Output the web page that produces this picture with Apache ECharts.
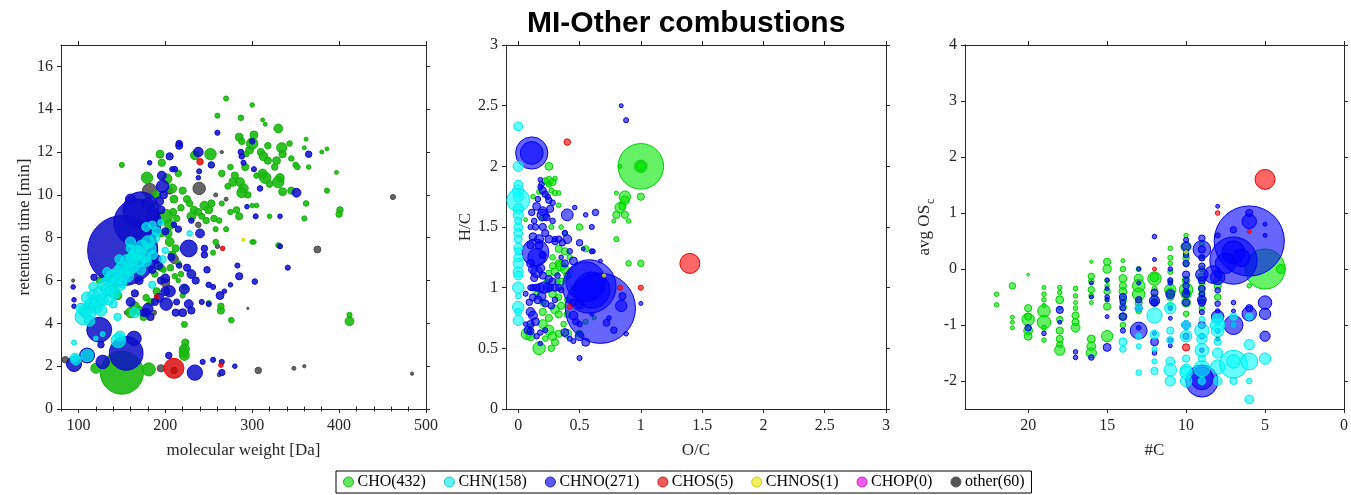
<!DOCTYPE html>
<html>
<head>
<meta charset="utf-8">
<title>MI-Other combustions</title>
<script src="https://cdn.jsdelivr.net/npm/echarts@6/dist/echarts.min.js"></script>
<style>
  html, body { margin: 0; padding: 0; background: #fff; }
  #chart { width: 1351px; height: 495px; }
</style>
</head>
<body>
<div id="chart"></div>
<script>
// Compound classes (legend order) with number of formulas in each class
const classNames = ['CHO(432)', 'CHN(158)', 'CHNO(271)', 'CHOS(5)', 'CHNOS(1)', 'CHOP(0)', 'other(60)'];

// Tick values
const mwTicks = [100, 200, 300, 400, 500];
const mwMinorTicks = [80, 120, 140, 160, 180, 220, 240, 260, 280, 320, 340, 360, 380, 420, 440, 460, 480];
const rtTicks = [0, 2, 4, 6, 8, 10, 12, 14, 16];
const ratioTicks = [0, 0.5, 1, 1.5, 2, 2.5, 3];
const ncTicks = [0, 5, 10, 15, 20];
const oscTicks = [-2, -1, 0, 1, 2, 3, 4];

// Panel 1: [molecular weight (Da), retention time (min), relative intensity]
const mwCHO = [
  [150, 1.7, 36], [181, 1.85, 3.3], [120, 1.9, 1.9], [222, 2.8, 1.9], [222, 2.5, 1.9], [223, 3.1, 1.0],
  [221, 2.65, 1.5], [222, 3.95, 0.7], [264, 4.6, 1.0], [264, 4.8, 0.8], [276, 4.15, 0.6], [250, 4.95, 0.5],
  [412, 4.1, 1.5], [412, 4.4, 0.5], [179, 10.8, 2.5], [194, 11.9, 1.2], [196, 11.5, 1.0], [202, 10.75, 1.9],
  [208, 10.3, 1.5], [200, 9.0, 4.0], [205, 8.6, 1.9], [195, 8.2, 1.0], [205, 7.8, 1.5], [208, 7.2, 1.2],
  [212, 7.5, 1.0], [215, 6.8, 0.6], [220, 10.2, 1.0], [225, 9.8, 1.0], [230, 9.0, 1.5], [228, 9.6, 0.8],
  [233, 9.3, 1.0], [245, 9.5, 1.5], [250, 9.3, 1.2], [253, 9.6, 1.0], [247, 8.8, 0.8], [256, 8.9, 0.8],
  [234, 11.85, 1.5], [252, 11.9, 2.5], [260, 13.7, 0.5], [270, 14.5, 0.5], [300, 14.2, 0.4], [287, 13.6, 0.6],
  [265, 11.0, 0.8], [275, 11.3, 0.6], [280, 10.9, 1.0], [278, 10.6, 1.3], [286, 10.6, 1.5], [290, 10.3, 1.7],
  [288, 10.1, 1.9], [295, 10.0, 0.8], [292, 11.3, 1.0], [297, 12.1, 1.2], [300, 12.4, 2.5], [302, 12.8, 1.2],
  [285, 12.7, 1.2], [288, 12.5, 0.8], [293, 11.9, 0.6], [310, 12.0, 1.0], [313, 11.8, 1.5], [318, 11.6, 1.0],
  [315, 10.8, 2.5], [312, 11.0, 1.5], [320, 10.5, 0.8], [330, 13.1, 1.5], [334, 12.2, 2.0], [335, 11.9, 1.0],
  [328, 11.6, 1.2], [326, 11.3, 0.8], [330, 10.6, 2.5], [332, 10.8, 1.3], [335, 10.15, 1.2], [345, 10.2, 1.0],
  [343, 12.4, 0.6], [350, 11.4, 0.6], [352, 11.3, 0.6], [345, 11.7, 0.6], [312, 13.5, 0.3], [315, 13.3, 0.3],
  [362, 12.6, 0.3], [380, 12.0, 0.3], [386, 12.15, 0.3], [397, 11.05, 0.3], [365, 11.3, 0.4], [360, 12.2, 0.3],
  [362, 9.6, 0.6], [360, 8.9, 0.5], [386, 10.2, 0.5], [401, 9.3, 0.8], [400, 9.1, 0.8], [300, 9.5, 0.4],
  [305, 9.5, 0.4], [320, 9.0, 0.4], [285, 9.0, 1.0], [282, 9.3, 0.8], [275, 9.2, 0.6], [262, 8.8, 0.6],
  [270, 8.4, 0.5], [258, 8.4, 0.5], [300, 7.8, 0.4], [302, 7.8, 0.4], [330, 7.65, 0.5], [258, 7.8, 0.6],
  [255, 7.3, 0.5], [220, 5.3, 0.5], [222, 5.7, 0.5], [218, 6.3, 0.6], [215, 6.0, 0.4], [150, 11.4, 0.5],
  [124, 6.0, 0.8], [130, 6.2, 0.6], [140, 5.6, 1.9], [145, 5.3, 1.5], [160, 4.5, 2.0], [165, 4.8, 1.5],
  [170, 4.6, 1.3], [175, 4.3, 1.0], [183, 5.0, 1.0], [190, 5.5, 1.0], [178, 5.2, 0.8], [188, 6.3, 0.8],
  [195, 6.6, 1.0], [198, 6.5, 0.6], [185, 9.5, 1.0], [190, 10.0, 1.3], [210, 9.8, 1.2], [215, 11.0, 0.8],
  [238, 9.2, 1.0], [242, 9.0, 0.7], [265, 9.6, 0.5], [272, 10.4, 0.7], [305, 10.9, 0.6], [318, 12.3, 0.8],
  [203, 8.2, 1.3], [209, 9.2, 1.0], [213, 8.9, 0.8], [218, 9.4, 0.8], [206, 6.6, 0.8], [211, 6.2, 0.6]
];
const mwCHN = [
  [105, 4.3, 4.5], [108, 4.6, 3.5], [112, 4.5, 4.0], [115, 4.9, 3.0], [110, 5.2, 2.5], [118, 5.3, 3.0],
  [120, 4.8, 4.0], [122, 5.0, 3.5], [125, 5.4, 3.5], [128, 5.1, 2.5], [130, 5.8, 3.5], [133, 5.6, 3.0],
  [136, 6.0, 3.2], [138, 5.5, 2.5], [140, 6.2, 3.5], [143, 6.0, 2.5], [146, 6.4, 3.0], [148, 5.8, 2.5],
  [150, 6.6, 3.0], [153, 6.3, 2.5], [156, 6.9, 3.5], [159, 6.5, 2.5], [162, 7.0, 3.5], [165, 7.2, 3.0],
  [168, 7.3, 4.0], [170, 6.9, 2.5], [173, 7.6, 3.0], [176, 7.1, 2.5], [180, 7.8, 3.0], [183, 7.5, 2.5],
  [188, 8.0, 1.8], [190, 8.3, 1.5], [195, 8.7, 0.8], [200, 7.4, 0.8], [197, 7.0, 1.0], [110, 2.5, 3.0],
  [97, 2.3, 2.0], [96, 2.4, 1.5], [146, 3.2, 4.0], [148, 3.4, 2.0], [95, 3.1, 0.5], [165, 4.5, 2.0],
  [145, 4.3, 1.0], [128, 3.5, 0.5], [120, 3.3, 0.4], [228, 8.2, 0.6], [185, 5.8, 1.0], [160, 7.8, 2.0],
  [178, 8.5, 1.5], [140, 4.9, 1.2], [113, 4.1, 2.0], [126, 4.6, 2.5], [135, 5.1, 2.0], [142, 5.4, 2.5],
  [150, 5.9, 2.0], [157, 6.2, 2.5], [163, 6.6, 2.0], [172, 6.5, 1.8], [178, 6.9, 2.0], [186, 7.2, 1.5],
  [103, 4.7, 2.0], [117, 5.7, 1.5], [133, 6.4, 1.5], [147, 7.0, 1.5], [160, 7.5, 1.5], [185, 8.6, 1.2]
];
const mwCHNO = [
  [151, 7.4, 95], [168, 8.7, 43], [172, 9.3, 25], [155, 2.6, 22], [124, 3.7, 12], [95, 2.1, 4.3],
  [110, 2.5, 4.3], [128, 2.2, 3.5], [234, 1.7, 4.5], [227, 7.5, 5.5], [265, 1.7, 0.8], [265, 2.2, 0.5],
  [255, 2.3, 0.5], [243, 2.2, 0.5], [280, 2.0, 0.4], [204, 2.5, 0.8], [94, 5.7, 0.4], [95, 5.1, 0.4],
  [95, 4.8, 0.4], [118, 6.15, 0.8], [126, 3.0, 0.8], [164, 3.3, 4.0], [197, 10.4, 3.0], [196, 10.9, 1.5],
  [198, 10.0, 1.2], [193, 9.7, 1.5], [195, 9.3, 1.2], [216, 12.3, 1.0], [216, 12.4, 0.8], [205, 11.8, 1.0],
  [208, 11.2, 0.5], [211, 11.2, 0.6], [200, 8.3, 1.0], [210, 8.6, 0.6], [215, 8.4, 0.8], [230, 8.8, 0.6],
  [185, 7.4, 1.9], [190, 7.0, 1.5], [192, 6.7, 1.3], [200, 6.1, 1.5], [195, 6.0, 1.0], [185, 6.5, 1.0],
  [205, 5.5, 2.5], [200, 5.5, 1.5], [193, 5.2, 1.5], [188, 5.0, 1.0], [180, 4.7, 2.0], [178, 4.5, 1.3],
  [201, 4.9, 3.0], [212, 4.5, 1.0], [220, 4.5, 1.2], [227, 4.9, 1.5], [230, 4.6, 1.0], [222, 5.6, 1.9],
  [230, 6.3, 1.5], [235, 6.0, 1.0], [225, 6.6, 1.0], [216, 6.7, 0.6], [240, 8.2, 1.5], [245, 7.5, 0.8],
  [245, 7.2, 0.8], [248, 6.5, 0.8], [250, 5.8, 0.6], [255, 5.7, 0.5], [263, 5.3, 1.2], [268, 5.5, 0.4],
  [275, 5.8, 0.4], [283, 6.7, 0.5], [285, 6.2, 1.0], [303, 5.95, 0.6], [250, 4.9, 0.5], [242, 5.0, 0.5],
  [260, 12.9, 0.5], [253, 11.4, 0.8], [239, 11.1, 0.5], [238, 10.8, 0.4], [287, 12.0, 0.6], [288, 11.8, 0.6],
  [300, 12.5, 0.6], [290, 11.5, 0.5], [302, 11.2, 0.5], [309, 10.3, 0.6], [365, 11.9, 0.8], [351, 10.1, 1.5],
  [332, 9.0, 0.4], [304, 9.0, 0.5], [294, 9.45, 0.4], [332, 7.6, 0.5], [341, 6.6, 0.5], [165, 5.4, 1.0],
  [160, 5.0, 1.5], [150, 6.1, 1.0], [170, 6.0, 1.2], [175, 4.5, 1.0], [183, 4.3, 1.0], [160, 9.8, 2.0],
  [180, 9.6, 2.5], [185, 9.0, 3.0], [207, 7.1, 1.0], [213, 5.0, 0.7], [238, 12.0, 1.8], [182, 11.5, 0.4]
];
const mwCHOS = [[210, 1.9, 7.7], [240, 11.55, 0.8], [190, 5.25, 0.4], [266, 7.5, 0.4], [264, 2.05, 0.4]];
const mwCHNOS = [[290, 7.9, 0.2]];
const mwCHOP = [];
const mwOther = [
  [182, 10.2, 4.0], [239, 10.3, 3.0], [85, 2.3, 0.8], [195, 1.9, 1.0], [210, 1.8, 0.8], [307, 1.8, 0.8],
  [348, 1.9, 0.3], [360, 2.0, 0.2], [484, 1.65, 0.2], [375, 7.45, 0.9], [462, 9.9, 0.5], [262, 1.6, 0.3],
  [238, 8.6, 0.6], [260, 7.6, 0.4], [258, 10.0, 0.3], [295, 4.7, 0.1], [270, 9.8, 0.3], [265, 12.0, 0.2],
  [210, 7.0, 1.5], [200, 5.9, 1.5], [187, 4.5, 0.5], [205, 10.2, 1.0], [155, 4.5, 0.3], [94, 6.0, 0.2]
];

// Panel 2: [O/C, H/C, relative intensity]
const vkCHO = [
  [1.0, 2.0, 40], [1.0, 2.0, 3.0], [1.0, 2.0, 1.5], [0.25, 2.0, 1.2], [0.25, 1.88, 1.5], [0.22, 1.88, 0.8],
  [0.28, 1.87, 1.0], [0.3, 1.9, 0.4], [0.17, 1.79, 0.5], [0.27, 1.8, 0.5], [0.3, 1.78, 0.6], [0.33, 1.78, 0.4],
  [0.25, 1.85, 0.6], [0.12, 1.75, 0.4], [0.06, 1.56, 0.3], [0.19, 1.57, 0.6], [0.33, 1.68, 0.4], [0.5, 1.5, 0.8],
  [0.55, 1.32, 0.8], [0.8, 1.78, 0.3], [0.87, 1.75, 2.5], [0.87, 1.72, 1.5], [0.83, 1.66, 2.0], [0.85, 1.67, 1.0],
  [1.0, 1.75, 1.0], [0.8, 1.6, 1.0], [0.87, 1.6, 1.0], [0.9, 1.55, 0.4], [0.78, 1.55, 0.3], [0.8, 1.4, 0.5],
  [0.9, 1.2, 0.6], [1.0, 1.2, 0.8], [0.83, 2.0, 0.3], [0.17, 0.5, 3.0], [0.07, 0.62, 2.5], [0.1, 0.6, 1.5],
  [0.2, 0.7, 1.5], [0.25, 0.65, 2.0], [0.28, 0.6, 1.5], [0.3, 0.55, 1.0], [0.27, 0.5, 0.8], [0.2, 0.8, 1.0],
  [0.25, 0.75, 1.0], [0.3, 0.82, 1.5], [0.33, 0.78, 1.0], [0.35, 0.85, 1.0], [0.28, 0.95, 1.2], [0.33, 0.92, 0.8],
  [0.35, 1.05, 1.0], [0.3, 1.13, 1.2], [0.33, 1.2, 1.0], [0.28, 1.18, 0.8], [0.35, 1.18, 2.0], [0.38, 1.15, 1.5],
  [0.4, 1.1, 1.0], [0.38, 1.3, 1.0], [0.33, 1.32, 1.0], [0.28, 1.25, 0.6], [0.32, 1.05, 0.6], [0.4, 0.9, 0.6],
  [0.4, 0.78, 0.8], [0.37, 0.7, 0.6], [0.33, 0.62, 1.0], [0.22, 0.58, 0.6], [0.35, 1.5, 0.4], [0.27, 1.5, 0.5],
  [0.38, 1.45, 0.4], [0.42, 1.25, 0.6], [0.45, 1.0, 0.5], [0.15, 0.95, 0.6], [0.23, 1.05, 0.5], [0.1, 0.68, 0.6],
  [0.4, 0.62, 1.5], [0.5, 0.62, 1.0], [0.62, 0.75, 0.3], [0.55, 0.72, 0.5], [0.2, 0.88, 0.8], [0.25, 1.12, 0.7]
];
const vkCHN = [
  [0, 2.33, 1.5], [0, 2.0, 2.0], [0, 1.8, 2.5], [0, 1.75, 2.0], [0, 1.72, 10], [0, 1.65, 2.0], [0, 1.6, 2.0],
  [0, 1.5, 1.5], [0, 1.45, 1.5], [0, 1.4, 1.2], [0, 1.33, 1.5], [0, 1.25, 1.5], [0, 1.2, 2.0], [0, 1.13, 2.0],
  [0, 1.0, 2.5], [0, 0.93, 0.6], [0, 0.84, 2.5], [0, 0.73, 2.0], [0, 0.8, 1.0], [0, 1.1, 1.5], [0, 1.3, 1.0],
  [0, 1.55, 1.0], [0, 1.85, 1.5]
];
const vkCHNO = [
  [0.67, 0.83, 95], [0.58, 1.01, 55], [0.55, 1.05, 30], [0.6, 0.98, 25], [0.11, 2.11, 20], [0.11, 2.11, 10],
  [0.14, 1.29, 14], [0.15, 1.25, 6], [0.18, 1.89, 0.4], [0.19, 1.85, 0.6], [0.18, 1.83, 0.5], [0.2, 1.8, 1.0],
  [0.22, 1.77, 0.8], [0.24, 1.75, 0.6], [0.25, 1.72, 0.8], [0.28, 1.7, 0.6], [0.15, 1.67, 1.2], [0.2, 1.63, 1.5],
  [0.2, 1.6, 2.5], [0.23, 1.58, 1.0], [0.26, 1.65, 1.0], [0.28, 1.55, 0.6], [0.13, 1.55, 0.6], [0.1, 1.5, 0.5],
  [0.14, 1.5, 0.8], [0.2, 1.5, 1.0], [0.22, 1.45, 1.0], [0.17, 1.4, 1.5], [0.25, 1.4, 1.2], [0.3, 1.4, 0.6],
  [0.3, 1.38, 0.8], [0.4, 1.6, 2.7], [0.4, 1.4, 1.5], [0.33, 1.4, 0.8], [0.36, 1.37, 0.8], [0.38, 1.2, 1.0],
  [0.45, 1.22, 1.2], [0.5, 1.37, 0.8], [0.55, 1.6, 0.4], [0.6, 1.5, 0.5], [0.63, 1.62, 0.8], [0.46, 1.66, 0.4],
  [0.6, 1.3, 0.5], [0.53, 1.32, 0.3], [0.67, 1.22, 0.3], [0.1, 1.0, 0.6], [0.12, 1.0, 0.8], [0.15, 1.0, 1.0],
  [0.18, 1.0, 1.5], [0.21, 1.0, 2.5], [0.24, 1.0, 1.5], [0.26, 1.0, 1.0], [0.3, 1.0, 1.0], [0.33, 1.0, 0.8],
  [0.35, 0.98, 0.6], [0.12, 1.15, 1.5], [0.15, 1.13, 2.5], [0.18, 1.16, 1.5], [0.2, 1.1, 1.0], [0.25, 1.07, 1.0],
  [0.28, 1.05, 1.0], [0.32, 1.1, 0.6], [0.12, 0.92, 1.0], [0.16, 0.9, 1.2], [0.19, 0.93, 1.5], [0.22, 0.87, 1.0],
  [0.27, 0.85, 0.8], [0.3, 0.9, 0.6], [0.1, 0.8, 1.5], [0.12, 0.77, 1.5], [0.1, 0.7, 1.0], [0.08, 0.65, 1.2],
  [0.1, 0.64, 1.0], [0.15, 0.6, 0.6], [0.18, 0.63, 0.6], [0.18, 0.54, 0.4], [0.22, 0.65, 0.5], [0.38, 0.63, 1.2],
  [0.45, 0.77, 1.5], [0.47, 0.72, 0.8], [0.5, 0.7, 0.6], [0.5, 0.6, 1.5], [0.55, 0.55, 1.2], [0.45, 0.56, 0.5],
  [0.42, 0.58, 0.5], [0.72, 0.71, 0.9], [0.78, 0.65, 0.8], [0.84, 0.85, 2.5], [0.88, 0.62, 0.4], [0.5, 0.42, 0.5],
  [0.84, 2.5, 0.3], [0.88, 2.38, 0.5], [0.38, 1.45, 0.6], [0.42, 1.3, 0.6], [0.35, 1.25, 0.4], [0.06, 0.95, 0.5],
  [0.06, 0.7, 0.4], [0.74, 0.75, 0.4], [0.6, 0.78, 0.3], [1.0, 0.87, 0.3], [0.61, 1.3, 0.4], [0.85, 0.93, 1.0],
  [0.5, 0.86, 1.5], [0.45, 0.88, 0.8], [0.1, 1.2, 1.2], [0.1, 1.35, 1.0], [0.12, 1.42, 1.2], [0.11, 1.62, 0.8],
  [0.16, 1.73, 0.6], [0.13, 1.08, 1.0], [0.09, 0.88, 0.8], [0.14, 0.72, 1.2], [0.17, 1.35, 1.2], [0.2, 1.27, 1.0]
];
const vkCHOS = [[1.4, 1.2, 7.7], [0.4, 2.2, 0.8], [0.83, 1.0, 0.5], [1.0, 1.0, 0.5], [0.42, 0.84, 0.5]];
const vkCHNOS = [[0.7, 1.1, 0.2]];
const vkCHOP = [];
const vkOther = [];

// Panel 3: [number of carbon atoms, average carbon oxidation state, relative intensity]
const osCHO = [
  [22, -0.45, 0.4], [22, -0.64, 0.4], [21, -0.3, 0.8], [21, -0.86, 0.3], [21, -0.95, 0.3], [21, -1.05, 0.3],
  [20, -0.1, 0.15], [20, -0.7, 1.0], [20, -0.9, 3.0], [20, -1.1, 1.5], [20, -1.2, 1.2], [20, -0.85, 1.0],
  [19, -0.33, 0.3], [19, -0.45, 0.4], [19, -0.55, 0.4], [19, -0.75, 3.0], [19, -0.95, 3.5], [19, -1.05, 0.5],
  [19, -1.27, 0.4], [19, -0.65, 0.3], [18, -0.33, 0.4], [18, -0.42, 0.4], [18, -0.55, 1.2], [18, -0.9, 0.8],
  [18, -1.1, 1.0], [18, -1.25, 1.0], [18, -1.35, 0.8], [18, -1.45, 2.0], [18, -0.7, 0.3], [17, -0.35, 0.4],
  [17, -0.48, 0.4], [17, -0.7, 0.4], [17, -0.83, 1.0], [17, -0.95, 1.0], [17, -1.05, 1.5], [17, -0.6, 0.3],
  [16, 0.13, 0.2], [16, -0.13, 0.8], [16, -0.22, 0.6], [16, -0.37, 0.8], [16, -0.48, 0.5], [16, -1.25, 1.2],
  [16, -1.38, 1.5], [16, -1.5, 2.0], [16, -0.6, 0.3], [15, 0.13, 1.0], [15, 0.0, 1.3], [15, -0.2, 0.5],
  [15, -0.4, 0.8], [15, -0.67, 1.0], [15, -1.2, 2.5], [15, -0.3, 0.4], [15, -0.55, 0.4], [14, 0.15, 0.3],
  [14, 0.0, 0.6], [14, -0.17, 1.2], [14, -0.3, 1.0], [14, -0.4, 1.2], [14, -0.55, 1.0], [14, -0.68, 1.0],
  [14, -0.85, 0.8], [14, -1.0, 0.6], [13, 0.0, 0.5], [13, -0.17, 1.5], [13, -0.3, 3.0], [13, -0.45, 3.0],
  [13, -0.6, 1.0], [13, -0.75, 0.6], [12, -0.17, 3.5], [12, -0.15, 1.5], [12, -0.35, 0.5], [12, -0.5, 0.8],
  [12, -0.6, 1.0], [11, 0.37, 0.4], [11, 0.2, 0.5], [11, 0.1, 0.4], [11, -0.05, 0.5], [11, -0.22, 0.5],
  [11, -0.37, 2.5], [11, -0.5, 1.0], [11, -0.65, 0.6], [11, -0.42, 1.5], [10, 0.6, 0.4], [10, 0.4, 2.0],
  [10, 0.2, 0.8], [10, 0.08, 0.5], [10, -0.2, 1.2], [10, -0.37, 3.5], [10, -0.45, 2.0], [10, -0.6, 1.5],
  [10, -0.8, 0.6], [10, 0.3, 0.6], [9, 0.45, 0.5], [9, 0.2, 0.5], [9, 0.0, 0.6], [9, -0.15, 1.5],
  [9, -0.35, 1.0], [9, -0.45, 0.8], [9, -0.55, 0.8], [9, -0.7, 0.6], [9, -0.25, 0.6], [8, -0.3, 1.0],
  [8, -0.5, 0.8], [8, -0.2, 1.2], [8, -0.1, 0.6], [6, -0.3, 0.4], [5, 0.0, 31], [4, 0.0, 1.5]
];
const osCHN = [
  [10, -1.0, 1.5], [10, -1.2, 2.5], [10, -1.6, 1.0], [10, -1.8, 2.5], [10, -2.0, 2.5], [10, -1.85, 3.0],
  [11, -0.7, 2.5], [11, -1.1, 1.0], [11, -1.27, 1.0], [11, -1.65, 1.5], [11, -1.8, 3.0], [11, -2.0, 2.0],
  [12, -0.83, 4.5], [12, -1.17, 1.5], [12, -1.43, 0.5], [12, -1.65, 0.5], [12, -1.82, 1.0], [13, -0.7, 1.0],
  [13, -1.2, 0.8], [13, -1.38, 0.5], [13, -1.85, 0.6], [14, -1.3, 1.2], [14, -1.43, 0.8], [9, -1.1, 4.0],
  [9, -1.25, 2.0], [9, -1.45, 3.5], [9, -1.6, 1.0], [9, -1.78, 5.0], [9, -2.0, 1.0], [9, -0.9, 0.6],
  [8, -0.9, 2.5], [8, -1.0, 4.0], [8, -1.1, 3.0], [8, -1.5, 2.0], [8, -1.75, 4.0], [8, -2.0, 1.5],
  [8, -1.3, 1.0], [7, -1.7, 15], [7, -1.65, 3.5], [7, -0.85, 1.0], [7, -1.0, 0.5], [7, -2.0, 1.0],
  [6, -1.65, 5.5], [6, -1.35, 2.0], [6, -0.85, 1.0], [6, -2.0, 0.6], [6, -2.33, 1.5], [5, -1.6, 2.5]
];
const osCHNO = [
  [6, 0.5, 95], [7, 0.15, 43], [7, 0.3, 10], [7.5, 0.1, 8], [8.3, -0.1, 6], [6, 0.85, 4], [6.5, 0.2, 6],
  [9, -2.0, 20], [9, -1.95, 10], [5, -0.6, 3.5], [5, -0.8, 2.5], [5, -1.2, 2.0], [5, 0.8, 0.3], [5, 0.6, 0.3],
  [6, -0.8, 4.0], [6, -0.7, 1.0], [6, 1.0, 1.0], [7, -1.0, 7.0], [7, -0.6, 0.4], [7, -0.75, 0.3], [7, 0.7, 0.8],
  [7, -1.0, 0.5], [8, -0.85, 3.0], [8, -0.15, 4.0], [8, -0.38, 0.6], [8, -0.62, 0.6], [8, -0.75, 0.4],
  [8, 1.12, 0.3], [8, 0.6, 0.5], [8, -1.1, 0.5], [8, -1.25, 0.3], [9, 0.55, 0.8], [9, 0.35, 6.0], [9, 0.35, 1.0],
  [9, 0.2, 0.8], [9, 0.05, 0.8], [9, -0.1, 3.0], [9, -0.2, 1.0], [9, -0.35, 0.8], [9, -0.45, 0.6],
  [9, -0.55, 1.5], [9, -0.6, 1.0], [9, -0.77, 0.5], [9, -1.0, 1.0], [9, -1.2, 0.6], [9, -1.45, 0.4],
  [10, 0.4, 1.5], [10, 0.25, 0.6], [10, 0.1, 0.8], [10, -0.1, 1.0], [10, -0.3, 0.8], [10, -0.4, 0.6],
  [10, -0.6, 1.0], [10, -0.45, 1.0], [10, -1.0, 1.5], [10, -1.2, 0.8], [10, 0.52, 0.5], [10, -0.2, 0.5],
  [11, 0.0, 0.4], [11, -0.2, 0.5], [11, -0.45, 1.5], [11, -0.7, 0.4], [11, -0.88, 0.3], [11, -1.27, 0.4],
  [11, -1.37, 0.3], [11, -0.25, 0.4], [12, 0.58, 0.4], [12, 0.17, 0.3], [12, -0.42, 1.0], [12, -0.57, 2.0],
  [12, -0.6, 1.0], [12, -1.3, 1.2], [12, -1.5, 0.4], [12, -1.15, 0.3], [13, -0.25, 0.3], [13, -0.55, 0.8],
  [13, -0.7, 1.0], [13, -1.1, 5.5], [13, -1.05, 0.4], [13, 0.0, 0.3], [14, -0.5, 1.0], [14, -0.7, 0.6],
  [14, -0.85, 1.2], [14, -1.1, 0.5], [14, -0.6, 0.6], [15, -0.2, 0.3], [15, -0.5, 0.4], [15, -0.55, 0.3],
  [15, -0.85, 0.3], [15, -1.4, 1.2], [15, -0.35, 0.3], [16, -1.58, 0.6], [16, -0.5, 0.3], [16, -0.25, 0.3],
  [17, -1.48, 0.4], [17, -1.58, 0.4], [18, -0.73, 1.0], [18, -0.95, 0.3], [19, -1.15, 0.4], [20, -1.05, 0.8]
];
const osCHOS = [[5, 1.6, 7.7], [8, 1.0, 0.4], [6, 0.67, 0.3], [10, -1.4, 1.0], [12, 0.0, 0.3]];
const osCHNOS = [[10, 0.3, 0.2]];
const osCHOP = [];
const osOther = [];

// Marker styles per class: dense panel is drawn more opaque
const fillDense = ['rgba(25,185,15,0.9)', 'rgba(0,235,235,0.72)', 'rgba(15,15,200,0.86)', 'rgba(215,0,0,0.8)',
                   'rgba(230,230,0,0.85)', 'rgba(230,0,230,0.8)', 'rgba(75,75,75,0.85)'];
const edgeDense = ['rgb(20,175,10)', 'rgb(0,225,225)', 'rgb(10,10,205)', 'rgb(255,0,0)',
                   'rgb(215,215,0)', 'rgb(215,0,215)', 'rgb(70,70,70)'];
const fillLight = ['rgba(0,230,0,0.6)', 'rgba(0,255,255,0.6)', 'rgba(0,0,255,0.6)', 'rgba(255,0,0,0.6)',
                   'rgba(255,255,0,0.6)', 'rgba(255,0,255,0.6)', 'rgba(80,80,80,0.7)'];
const edgeLight = ['rgb(0,205,0)', 'rgb(0,230,230)', 'rgb(0,0,235)', 'rgb(235,0,0)',
                   'rgb(220,220,0)', 'rgb(220,0,220)', 'rgb(70,70,70)'];
const legendFill = ['#5ee85e', '#5ef2f2', '#5a5af0', '#f25a5a', '#f0f05a', '#f05af0', '#555555'];
const legendEdge = ['#22b022', '#22c8c8', '#2020c0', '#c82020', '#c8c820', '#c820c8', '#555555'];

const SERIF = "'Liberation Serif', 'Times New Roman', serif";
const SANS = "'Liberation Sans', Arial, sans-serif";
const INK = '#262626';

// bubble diameter from relative intensity (area proportional to intensity)
const bubble = v => 7.2 * Math.sqrt(v[2]);

// Draw order inside each panel (later entries are drawn on top)
const drawOrder = [6, 0, 2, 1, 3, 4, 5];

const panels = [
  { sets: [mwCHO, mwCHN, mwCHNO, mwCHOS, mwCHNOS, mwCHOP, mwOther], fill: fillDense, edge: edgeDense },
  { sets: [vkCHO, vkCHN, vkCHNO, vkCHOS, vkCHNOS, vkCHOP, vkOther], fill: fillLight, edge: edgeLight },
  { sets: [osCHO, osCHN, osCHNO, osCHOS, osCHNOS, osCHOP, osOther], fill: fillLight, edge: edgeLight }
];

const grids = [
  { left: 61, top: 45, width: 365, height: 364 },
  { left: 506, top: 45, width: 380, height: 364 },
  { left: 965, top: 45, width: 380, height: 364 }
];

const axisLineStyle = { color: INK, width: 1 };
const labelStyle = { fontFamily: SERIF, fontSize: 16, color: INK };
const nameStyle = { fontFamily: SERIF, fontSize: 17, color: INK };

function xAxisPair(gridIndex, min, max, ticks, extra) {
  const base = {
    type: 'value', gridIndex, min, max, inverse: !!(extra && extra.inverse),
    splitLine: { show: false },
    axisLine: { show: true, onZero: false, lineStyle: axisLineStyle }
  };
  return [
    Object.assign({}, base, {
      position: 'bottom',
      axisTick: { show: true, inside: false, length: 4, customValues: ticks, lineStyle: axisLineStyle },
      axisLabel: Object.assign({ show: true, margin: 9, customValues: ticks }, labelStyle),
      name: extra.name, nameLocation: 'middle', nameGap: 33, nameTextStyle: nameStyle
    }),
    Object.assign({}, base, {
      position: 'top',
      axisTick: { show: true, inside: false, length: 4, customValues: ticks, lineStyle: axisLineStyle },
      axisLabel: { show: false }
    })
  ];
}

function yAxisPair(gridIndex, min, max, ticks, extra) {
  const base = {
    type: 'value', gridIndex, min, max,
    splitLine: { show: false },
    axisLine: { show: true, onZero: false, lineStyle: axisLineStyle }
  };
  return [
    Object.assign({}, base, {
      position: 'left',
      axisTick: { show: true, inside: false, length: 4, customValues: ticks, lineStyle: axisLineStyle },
      axisLabel: Object.assign({ show: true, margin: 8, customValues: ticks }, labelStyle),
      name: extra.name, nameLocation: 'middle', nameGap: extra.nameGap, nameRotate: 90,
      nameTextStyle: Object.assign({}, nameStyle, extra.nameTextStyle || {})
    }),
    Object.assign({}, base, {
      position: 'right',
      axisTick: { show: true, inside: false, length: 4, customValues: ticks, lineStyle: axisLineStyle },
      axisLabel: { show: false }
    })
  ];
}

const xAxes = [
  ...xAxisPair(0, 80, 500, mwTicks, { name: 'molecular weight [Da]' }),
  ...xAxisPair(1, -0.1, 3, ratioTicks, { name: 'O/C' }),
  ...xAxisPair(2, 0, 24, ncTicks, { name: '#C', inverse: true })
];
// minor ticks along the molecular-weight axis (bottom and top)
['bottom', 'top'].forEach(pos => {
  xAxes.push({
    type: 'value', gridIndex: 0, min: 80, max: 500, position: pos,
    splitLine: { show: false }, axisLine: { show: false }, axisLabel: { show: false },
    axisTick: { show: true, inside: false, length: 2.5, customValues: mwMinorTicks, lineStyle: axisLineStyle }
  });
});

const yAxes = [
  ...yAxisPair(0, 0, 17, rtTicks, { name: 'retention time [min]', nameGap: 27 }),
  ...yAxisPair(1, 0, 3, ratioTicks, { name: 'H/C', nameGap: 30 }),
  ...yAxisPair(2, -2.5, 4, oscTicks, {
    name: '{n|avg OS}{s|c}', nameGap: 27,
    nameTextStyle: {
      rich: {
        n: { fontFamily: SERIF, fontSize: 17, color: INK, lineHeight: 26, verticalAlign: 'middle' },
        s: { fontFamily: SERIF, fontSize: 12, color: INK, lineHeight: 26, verticalAlign: 'bottom', padding: [0, 0, 1, 1] }
      }
    }
  })
];

const series = [];
panels.forEach((panel, p) => {
  drawOrder.forEach(k => {
    series.push({
      type: 'scatter',
      name: classNames[k],
      xAxisIndex: p * 2,
      yAxisIndex: p * 2,
      data: panel.sets[k],
      symbol: 'circle',
      symbolSize: bubble,
      clip: true,
      itemStyle: { color: panel.fill[k], borderColor: panel.edge[k], borderWidth: 1, opacity: 1 },
      emphasis: { disabled: true },
      animation: false
    });
  });
});

const chart = echarts.init(document.getElementById('chart'), null, { renderer: 'canvas' });
chart.setOption({
  backgroundColor: '#ffffff',
  animation: false,
  title: {
    text: 'MI-Other combustions',
    left: 527, top: 9, padding: 0,
    textStyle: { fontFamily: SANS, fontWeight: 'bold', fontSize: 30, color: '#000' }
  },
  legend: {
    left: 336, top: 471,
    orient: 'horizontal',
    itemWidth: 10, itemHeight: 10, itemGap: 18,
    padding: [3, 7, 3, 7],
    borderColor: '#000', borderWidth: 1,
    selectedMode: false,
    icon: 'circle',
    textStyle: { fontFamily: SERIF, fontSize: 16, color: '#000', padding: [0, 0, 0, -1] },
    data: classNames.map((n, i) => ({
      name: n, icon: 'circle',
      itemStyle: { color: legendFill[i], borderColor: legendEdge[i], borderWidth: 1 }
    }))
  },
  grid: grids,
  xAxis: xAxes,
  yAxis: yAxes,
  series
});
</script>
</body>
</html>
